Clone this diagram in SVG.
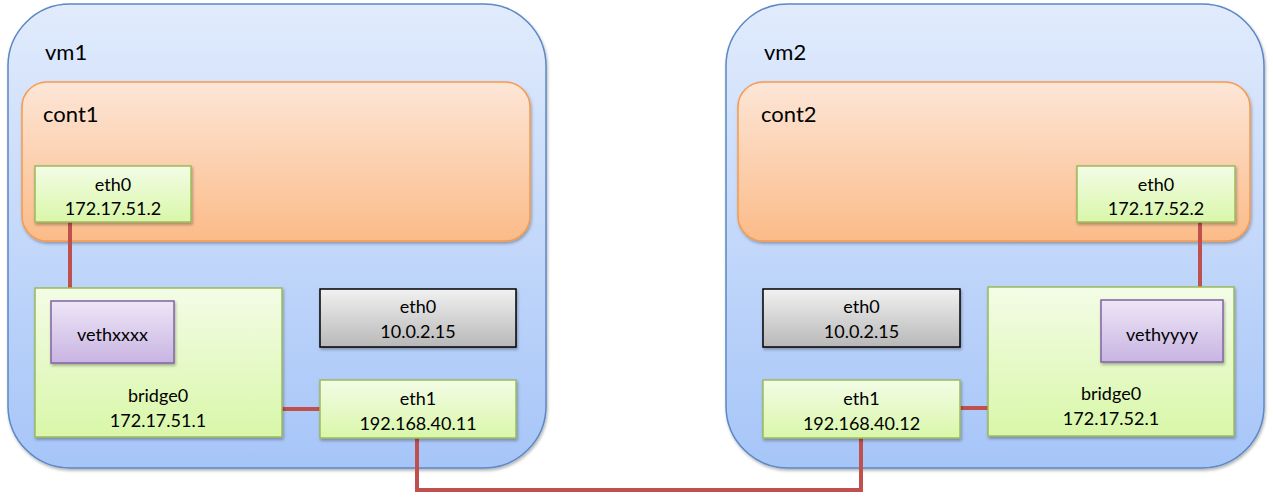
<svg xmlns="http://www.w3.org/2000/svg" width="1273" height="503" viewBox="0 0 1273 503">
<defs>
<linearGradient id="gVm" x1="0" y1="0" x2="0" y2="1"><stop offset="0" stop-color="#e1ebfc"/><stop offset="1" stop-color="#a6c5f8"/></linearGradient>
<linearGradient id="gCont" x1="0" y1="0" x2="0" y2="1"><stop offset="0" stop-color="#fde6d7"/><stop offset="1" stop-color="#fbbb88"/></linearGradient>
<linearGradient id="gGreen" x1="0" y1="0" x2="0" y2="1"><stop offset="0" stop-color="#f3fce6"/><stop offset="1" stop-color="#d9f7a9"/></linearGradient>
<linearGradient id="gPurple" x1="0" y1="0" x2="0" y2="1"><stop offset="0" stop-color="#eee6f7"/><stop offset="1" stop-color="#c8b4e2"/></linearGradient>
<linearGradient id="gGray" x1="0" y1="0" x2="0" y2="1"><stop offset="0" stop-color="#f1f1f1"/><stop offset="1" stop-color="#b8b8b8"/></linearGradient>
<filter id="sh" x="-10%" y="-10%" width="130%" height="130%"><feDropShadow dx="1" dy="2" stdDeviation="1.5" flood-color="#000" flood-opacity="0.3"/></filter>
</defs>
<style>
.vm{fill:url(#gVm);stroke:#5b88c5;stroke-width:1.5;filter:url(#sh)}
.cont{fill:url(#gCont);stroke:#f79a4e;stroke-width:1.5;filter:url(#sh)}
.green{fill:url(#gGreen);stroke:#9bbb59;stroke-width:1.5;filter:url(#sh)}
.purple{fill:url(#gPurple);stroke:#8064a2;stroke-width:1.5;filter:url(#sh)}
.gray{fill:url(#gGray);stroke:#000;stroke-width:1.5;filter:url(#sh)}
.big{font-family:Lato,"Liberation Sans",sans-serif;font-size:22px;fill:#000}
.lbl{font-family:Lato,"Liberation Sans",sans-serif;font-size:18px;fill:#000;text-anchor:middle}
.conn{fill:none;stroke:#c0504d;stroke-width:4}
</style>
<g id="vm1">
<rect class="vm" x="8" y="4" width="538" height="464" rx="62" ry="62"/>
<text class="big" x="45" y="60">vm1</text>
</g>
<g id="vm2">
<rect class="vm" x="726" y="4" width="538" height="464" rx="62" ry="62"/>
<text class="big" x="764" y="60">vm2</text>
</g>
<g id="cont1">
<rect class="cont" x="22" y="82" width="508" height="159" rx="25" ry="25"/>
<text class="big" x="43" y="122">cont1</text>
</g>
<g id="cont2">
<rect class="cont" x="738" y="82" width="512" height="159" rx="25" ry="25"/>
<text class="big" x="761" y="122">cont2</text>
</g>
<g id="connectors">
<path class="conn" d="M70,222 V301"/>
<path class="conn" d="M282,409 H320"/>
<path class="conn" d="M1200,222 V300"/>
<path class="conn" d="M960,408 H988"/>
<path class="conn" d="M417,438 V490 H861 V438"/>
</g>
<g id="cont1-eth0">
<rect class="green" x="35" y="166" width="156" height="56"/>
<text class="lbl" x="113" y="191">eth0</text>
<text class="lbl" x="113" y="215">172.17.51.2</text>
</g>
<g id="cont2-eth0">
<rect class="green" x="1077" y="166" width="158" height="56"/>
<text class="lbl" x="1156" y="191">eth0</text>
<text class="lbl" x="1156" y="215">172.17.52.2</text>
</g>
<g id="vm1-bridge0">
<rect class="green" x="35" y="288" width="247" height="149"/>
<text class="lbl" x="158" y="402">bridge0</text>
<text class="lbl" x="158" y="427">172.17.51.1</text>
</g>
<g id="vm1-vethxxxx">
<rect class="purple" x="51" y="301" width="123" height="62"/>
<text class="lbl" x="112.5" y="341">vethxxxx</text>
</g>
<g id="vm1-eth0">
<rect class="gray" x="320" y="289" width="196" height="58"/>
<text class="lbl" x="418" y="313">eth0</text>
<text class="lbl" x="418" y="338">10.0.2.15</text>
</g>
<g id="vm1-eth1">
<rect class="green" x="320" y="380" width="196" height="58"/>
<text class="lbl" x="418" y="405">eth1</text>
<text class="lbl" x="418" y="430">192.168.40.11</text>
</g>
<g id="vm2-eth0">
<rect class="gray" x="763" y="289" width="197" height="58"/>
<text class="lbl" x="861.5" y="313">eth0</text>
<text class="lbl" x="861.5" y="338">10.0.2.15</text>
</g>
<g id="vm2-eth1">
<rect class="green" x="763" y="380" width="197" height="58"/>
<text class="lbl" x="861.5" y="405">eth1</text>
<text class="lbl" x="861.5" y="430">192.168.40.12</text>
</g>
<g id="vm2-bridge0">
<rect class="green" x="988" y="287" width="246" height="149"/>
<text class="lbl" x="1111" y="400">bridge0</text>
<text class="lbl" x="1111" y="425">172.17.52.1</text>
</g>
<g id="vm2-vethyyyy">
<rect class="purple" x="1101" y="300" width="122" height="62"/>
<text class="lbl" x="1162" y="341">vethyyyy</text>
</g>
</svg>
